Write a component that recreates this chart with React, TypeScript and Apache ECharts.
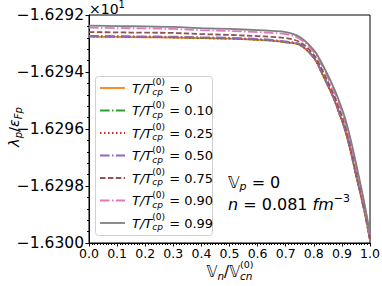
import React, { useEffect, useRef } from 'react';
import * as echarts from 'echarts';

const xValues = [0, 0.1, 0.2, 0.3, 0.4, 0.5, 0.6, 0.65, 0.7, 0.75, 0.8, 0.83, 0.87, 0.89, 0.91, 0.93, 0.95, 0.98, 1.0];

const curveT000 = [-1.629276, -1.629277, -1.629278, -1.629279, -1.629281, -1.629283, -1.629287, -1.62929, -1.629296, -1.629305, -1.629351, -1.629407, -1.629491, -1.629544, -1.6296, -1.629674, -1.629761, -1.629888, -1.62999];
const curveT010 = [-1.629275, -1.629276, -1.629277, -1.629278, -1.62928, -1.629282, -1.629286, -1.629289, -1.629295, -1.629304, -1.62935, -1.629406, -1.62949, -1.629543, -1.629599, -1.629673, -1.62976, -1.629887, -1.62999];
const curveT025 = [-1.629276, -1.629276, -1.629277, -1.629279, -1.629281, -1.629283, -1.629287, -1.62929, -1.629296, -1.629305, -1.62935, -1.629407, -1.62949, -1.629544, -1.6296, -1.629674, -1.62976, -1.629888, -1.62999];
const curveT050 = [-1.629273, -1.629274, -1.629275, -1.629276, -1.629278, -1.62928, -1.629284, -1.629287, -1.629293, -1.629302, -1.629348, -1.629404, -1.629488, -1.629541, -1.629597, -1.629671, -1.629758, -1.629886, -1.629989];
const curveT075 = [-1.62926, -1.629261, -1.629262, -1.629263, -1.629267, -1.62927, -1.629274, -1.629277, -1.629281, -1.629295, -1.62934, -1.629393, -1.629477, -1.629526, -1.629582, -1.629656, -1.629744, -1.629877, -1.629983];
const curveT090 = [-1.629244, -1.629246, -1.629247, -1.629249, -1.629253, -1.629256, -1.62926, -1.629263, -1.629267, -1.629284, -1.62933, -1.629379, -1.629463, -1.629512, -1.629568, -1.629642, -1.62973, -1.629867, -1.629975];
const curveT099 = [-1.629237, -1.629239, -1.62924, -1.629242, -1.629246, -1.629249, -1.629253, -1.629256, -1.62926, -1.629277, -1.629323, -1.629372, -1.629453, -1.629502, -1.629558, -1.629632, -1.629719, -1.62986, -1.629968];

const tempLabels = ['0', '0.10', '0.25', '0.50', '0.75', '0.90', '0.99'];
const curves = [curveT000, curveT010, curveT025, curveT050, curveT075, curveT090, curveT099];
const colors = ['#ff7f0e', '#2ca02c', '#d62728', '#9467bd', '#8c564b', '#e377c2', '#7f7f7f'];
const dashes: any[] = ['solid', [9.6, 2.4, 1.5, 2.4], [1.5, 2.5], [9.6, 2.4, 1.5, 2.4], [5.5, 2.4], [9.6, 2.4, 1.5, 2.4], 'solid'];

const FONT = '"DejaVu Sans", sans-serif';

type Run = { t: string; size: number; italic?: boolean; dy?: number; stackPrev?: boolean };

function layoutRuns(ctx: CanvasRenderingContext2D, runs: Run[], x0: number, y0: number, align: 'left' | 'center') {
  let cursor = 0;
  let prevX = 0;
  let prevW = 0;
  const placed: { run: Run; x: number }[] = [];
  for (const r of runs) {
    ctx.font = `${r.italic ? 'italic ' : ''}${r.size}px ${FONT}`;
    const w = ctx.measureText(r.t).width;
    if (r.stackPrev) {
      placed.push({ run: r, x: prevX });
      const m = Math.max(prevW, w);
      cursor = prevX + m;
      prevW = m;
    } else {
      placed.push({ run: r, x: cursor });
      prevX = cursor;
      prevW = w;
      cursor += w;
    }
  }
  const shift = align === 'center' ? -cursor / 2 : 0;
  return placed.map((p) => ({
    type: 'text',
    x: x0 + p.x + shift,
    y: y0 + (p.run.dy || 0),
    silent: true,
    style: {
      text: p.run.t,
      fontSize: p.run.size,
      fontFamily: FONT,
      fontStyle: p.run.italic ? 'italic' : 'normal',
      fill: '#000',
      verticalAlign: 'middle',
      align: 'left',
    },
  }));
}

export default function App() {
  const ref = useRef<HTMLDivElement>(null);
  useEffect(() => {
    if (!ref.current) return;
    const chart = echarts.init(ref.current, null, { renderer: 'svg' });
    const ctx = document.createElement('canvas').getContext('2d') as CanvasRenderingContext2D;

    const series = curves.map((c, i) => ({
      type: 'line',
      name: tempLabels[i],
      data: xValues.map((x, j) => [x, c[j]]),
      showSymbol: false,
      smooth: 0.35,
      lineStyle: { color: colors[i], width: 1.8, type: dashes[i], cap: 'butt' },
      itemStyle: { color: colors[i] },
      z: 2 + i,
    }));

    const graphics: any[] = [];
    // offset text
    graphics.push(...layoutRuns(ctx, [
      { t: '\u00d710', size: 14 },
      { t: '1', size: 10, dy: -5 },
    ], 89, 9, 'left'));
    // y axis label (rotated)
    graphics.push({
      type: 'group',
      x: 14,
      y: 127,
      rotation: Math.PI / 2,
      children: layoutRuns(ctx, [
        { t: '\u03bb', size: 14.5, italic: true },
        { t: 'p', size: 10, italic: true, dy: 4 },
        { t: '/', size: 14.5 },
        { t: '\u03b5', size: 14.5, italic: true },
        { t: 'Fp', size: 10, italic: true, dy: 4 },
      ], 0, 0, 'center'),
    });
    // x axis label
    graphics.push(...layoutRuns(ctx, [
      { t: '\ud835\udd4d', size: 15, italic: true },
      { t: 'n', size: 10.5, italic: true, dy: 4 },
      { t: '/', size: 15 },
      { t: '\ud835\udd4d', size: 15, italic: true },
      { t: '(0)', size: 9.5, dy: -8 },
      { t: 'cn', size: 10.5, italic: true, dy: 4, stackPrev: true },
    ], 230, 272, 'center'));
    // annotations
    graphics.push(...layoutRuns(ctx, [
      { t: '\ud835\udd4d', size: 16, italic: true },
      { t: 'p', size: 11, italic: true, dy: 4 },
      { t: ' = 0', size: 16 },
    ], 228, 182, 'left'));
    graphics.push(...layoutRuns(ctx, [
      { t: 'n', size: 16, italic: true },
      { t: ' = 0.081 ', size: 16 },
      { t: 'fm', size: 16, italic: true },
      { t: '\u22123', size: 11, dy: -6 },
    ], 228, 204, 'left'));

    // legend
    const legendChildren: any[] = [];
    legendChildren.push({
      type: 'rect',
      shape: { x: 95.5, y: 76.5, width: 117, height: 159, r: 3 },
      style: { fill: 'rgba(255,255,255,0.8)', stroke: '#d0d0d0', lineWidth: 1 },
      silent: true,
    });
    tempLabels.forEach((lab, i) => {
      const y = 88 + i * 22.5;
      legendChildren.push({
        type: 'line',
        shape: { x1: 100, y1: y, x2: 125, y2: y },
        style: { stroke: colors[i], lineWidth: 1.8, lineDash: dashes[i] === 'solid' ? null : dashes[i] },
        silent: true,
      });
      legendChildren.push(...layoutRuns(ctx, [
        { t: 'T/T', size: 13, italic: true },
        { t: '(0)', size: 9, dy: -6 },
        { t: 'cp', size: 9, italic: true, dy: 4, stackPrev: true },
        { t: ' = ' + lab, size: 13 },
      ], 132, y, 'left'));
    });
    graphics.push({ type: 'group', z: 100, children: legendChildren });

    chart.setOption({
      animation: false,
      grid: { left: 89, right: 12, top: 15, bottom: 43, containLabel: false, outerBoundsMode: 'none', show: true, borderColor: '#000', borderWidth: 1, backgroundColor: 'transparent' },
      xAxis: {
        type: 'value',
        min: 0,
        max: 1,
        interval: 0.1,
        axisLine: { show: true, lineStyle: { color: '#000', width: 1 } },
        axisTick: { show: true, length: 3.5, lineStyle: { color: '#000' } },
        minorTick: { show: true, splitNumber: 10, length: 2, lineStyle: { color: '#000' } },
        splitLine: { show: false },
        axisLabel: { color: '#000', fontSize: 12.5, fontFamily: FONT, margin: 4, formatter: (v: number) => v.toFixed(1) },
      },
      yAxis: {
        type: 'value',
        min: -1.63,
        max: -1.6292,
        interval: 0.0002,
        axisLine: { show: true, lineStyle: { color: '#000', width: 1 } },
        axisTick: { show: true, length: 3.5, lineStyle: { color: '#000' } },
        minorTick: { show: true, splitNumber: 5, length: 2, lineStyle: { color: '#000' } },
        splitLine: { show: false },
        axisLabel: { color: '#000', fontSize: 15.5, fontFamily: FONT, margin: 5, formatter: (v: number) => '\u2212' + Math.abs(v).toFixed(4) },
      },
      series,
      graphic: graphics,
    });
    return () => chart.dispose();
  }, []);
  return <div ref={ref} style={{ position: 'absolute', left: 0, top: 0, width: 382, height: 286 }} />;
}
